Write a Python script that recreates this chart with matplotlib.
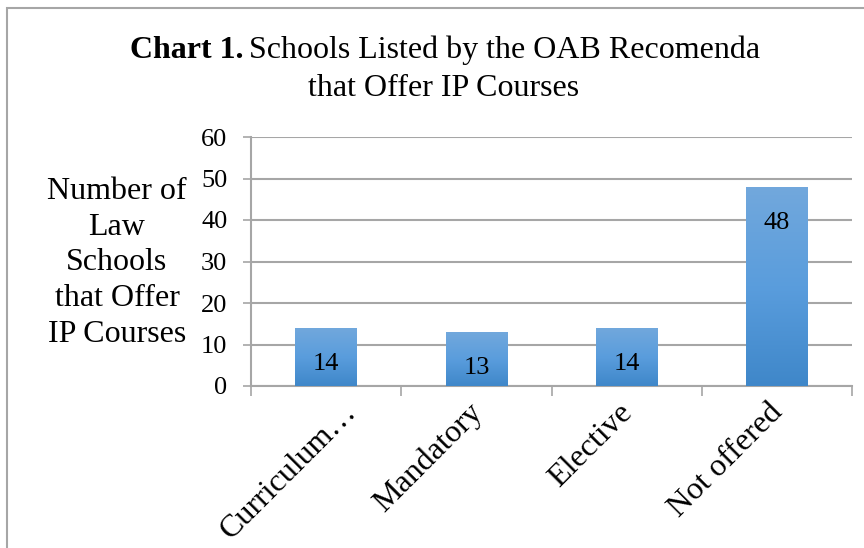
import matplotlib.pyplot as plt
import numpy as np
from matplotlib.patches import Rectangle
from matplotlib.colors import LinearSegmentedColormap
from matplotlib.transforms import ScaledTranslation

plt.rcParams['font.family'] = ['Liberation Serif', 'DejaVu Serif']

# data
categories = ["Curriculum…", "Mandatory", "Elective", "Not offered"]
counts = [14, 13, 14, 48]
yticks = [0, 10, 20, 30, 40, 50, 60]

grid_col = '#a6a6a6'

fig = plt.figure(figsize=(8.64, 5.48), dpi=100)
ax = fig.add_axes([251/864, 1-386/548, 601/864, 249/548])

x = np.arange(len(categories))
bars = ax.bar(x, counts, width=0.41, color='#5b9bd5', zorder=2)

# vertical gradient inside each bar (lighter top, darker bottom)
grad = np.linspace(0, 1, 256).reshape(-1, 1)
cmap = LinearSegmentedColormap.from_list('g', ['#3f87c9', '#5a9ddd', '#72a8dc'])
for b in bars:
    bx, by = b.get_x(), b.get_y()
    w, h = b.get_width(), b.get_height()
    im = ax.imshow(grad, cmap=cmap, aspect='auto', origin='lower',
                   extent=[bx, bx + w, by, by + h], zorder=3)
    im.set_clip_path(b)

# value labels inside the bar end
for xi, v in zip(x, counts):
    ax.annotate(str(v), (xi, v), xytext=(0, -26), textcoords='offset points',
                ha='center', va='center', fontsize=19, color='black', zorder=4)

ax.set_xlim(-0.5, len(categories) - 0.5)
ax.set_ylim(0, 60)
ax.set_yticks(yticks)
ax.yaxis.grid(True, color=grid_col, linewidth=1.5, zorder=1)
ax.set_axisbelow(True)

for s in ['top', 'right']:
    ax.spines[s].set_visible(False)
for s in ['left', 'bottom']:
    ax.spines[s].set_color(grid_col)
    ax.spines[s].set_linewidth(1.5)

ax.tick_params(axis='y', length=6, width=1.2, color=grid_col, pad=11,
               labelsize=19)
# x ticks at category boundaries
ax.set_xticks(np.arange(len(categories) + 1) - 0.5, minor=True)
ax.tick_params(axis='x', which='minor', length=7, width=1.2, color=grid_col)
ax.set_xticks(x)
ax.set_xticklabels(categories, rotation=45, ha='right', va='center',
                   rotation_mode='anchor', fontsize=23)
ax.tick_params(axis='x', which='major', length=0, pad=16)
# the truncated first label sits further right in the original
shifts = [18, 0, 0, 0]
for lbl, sh in zip(ax.get_xticklabels(), shifts):
    off = ScaledTranslation((1 + sh) / 72, 0, fig.dpi_scale_trans)
    lbl.set_transform(lbl.get_transform() + off)

# y label block
fig.text(117/864, 1-263/548, "Number of\nLaw\nSchools\nthat Offer\nIP Courses",
         ha='center', va='center', fontsize=23, linespacing=1.3)

# title
fig.text(244/864, 1-50/548, "Chart 1.", ha='right', va='center',
         fontsize=23, fontweight='bold')
fig.text(249/864, 1-50/548, "Schools Listed by the OAB Recomenda",
         ha='left', va='center', fontsize=23)
fig.text(444/864, 1-88/548, "that Offer IP Courses", ha='center',
         va='center', fontsize=23)

# chart border
fig.add_artist(Rectangle((7/864, -0.1), 1.2, 0.1 + 1 - 8/548,
                         transform=fig.transFigure, fill=False,
                         edgecolor='#a6a6a6', linewidth=1.5))

fig.savefig('out.png', dpi=100)
